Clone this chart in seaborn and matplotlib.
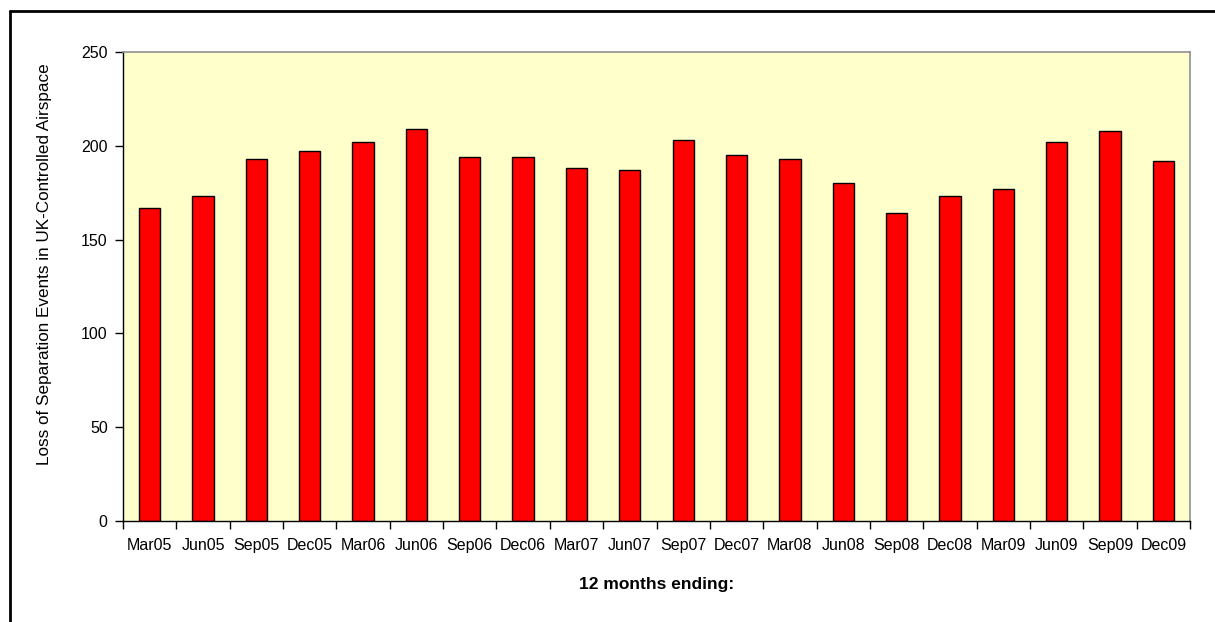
import matplotlib
matplotlib.use('Agg')
import matplotlib.pyplot as plt
import seaborn as sns
import pandas as pd
from matplotlib.lines import Line2D

periods = ['Mar05', 'Jun05', 'Sep05', 'Dec05', 'Mar06', 'Jun06', 'Sep06', 'Dec06',
           'Mar07', 'Jun07', 'Sep07', 'Dec07', 'Mar08', 'Jun08', 'Sep08', 'Dec08',
           'Mar09', 'Jun09', 'Sep09', 'Dec09']
events = [167, 173, 193, 197, 202, 209, 194, 194, 188, 187,
          203, 195, 193, 180, 164, 173, 177, 202, 208, 192]
y_ticks = [0, 50, 100, 150, 200, 250]

sns.set_theme(style='white')
plt.rcParams['font.family'] = ['Liberation Sans', 'DejaVu Sans']

W, H = 1215, 622
fig = plt.figure(figsize=(W / 100, H / 100), dpi=100)
L, R, T, B = 123, 1190, 52, 521
ax = fig.add_axes([L / W, 1 - B / H, (R - L) / W, (B - T) / H])
ax.set_facecolor('#FFFFCC')

df = pd.DataFrame({'period': periods, 'events': events})
sns.barplot(data=df, x='period', y='events', color='#FF0000', saturation=1,
            edgecolor='black', linewidth=1, width=0.4, ax=ax)

ax.set_ylim(0, 250)
ax.set_yticks(y_ticks)
ax.set_xlim(-0.5, len(periods) - 0.5)
ax.set_xticks(range(len(periods)))
ax.set_xticklabels(periods)
ax.set_xticks([i - 0.5 for i in range(len(periods) + 1)], minor=True)
ax.tick_params(axis='x', which='major', length=0, pad=12, labelsize=11.5,
               labelcolor='black', bottom=True)
ax.tick_params(axis='x', which='minor', length=6, width=1, color='black',
               direction='out', bottom=True)
ax.tick_params(axis='y', length=6, width=1, color='black', direction='out',
               left=True, labelsize=11.5, pad=5, labelcolor='black')

for s in ['left', 'bottom']:
    ax.spines[s].set_color('black')
    ax.spines[s].set_linewidth(1)
for s in ['top', 'right']:
    ax.spines[s].set_color('#909090')
    ax.spines[s].set_linewidth(1.2)

ax.set_xlabel('')
ax.set_ylabel('')
fig.text((L + R) / 2 / W, 1 - 585 / H, '12 months ending:', ha='center', va='center',
         fontsize=12.5, fontweight='bold', color='black')
fig.text(45 / W, 1 - 264 / H, 'Loss of Separation Events in UK-Controlled Airspace',
         rotation=90, ha='center', va='center', fontsize=12.3, color='black')

fig.add_artist(Line2D([10 / W, 10 / W], [0, 1 - 11 / H], color='black', lw=2))
fig.add_artist(Line2D([10 / W, 1], [1 - 11 / H, 1 - 11 / H], color='black', lw=2))

fig.savefig('out.png', dpi=100)
